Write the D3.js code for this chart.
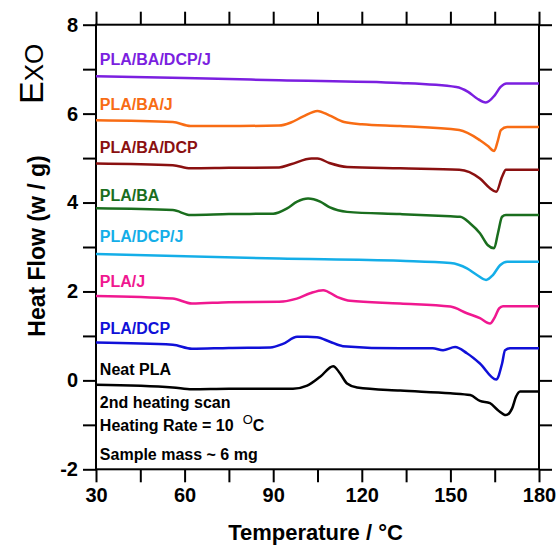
<!DOCTYPE html>
<html>
<head>
<meta charset="utf-8">
<script src="https://cdn.jsdelivr.net/npm/d3@7"></script>
<style>
  body { margin: 0; background: #fff; }
  text { font-family: "Liberation Sans", Arial, sans-serif; }
</style>
</head>
<body>
<svg id="chart" width="558" height="547"></svg>
<script>
// temperature (C) and heat flow (w/g), one pair per sample
var purpleT  = [30, 60, 92, 133, 152, 156, 159, 162, 165, 167, 169, 180]
var purpleHF = [6.84, 6.80, 6.75, 6.69, 6.60, 6.49, 6.34, 6.25, 6.41, 6.60, 6.68, 6.68]

var orangeT  = [30, 56, 62, 75, 92, 96, 100, 105, 109, 114, 120, 133, 153, 160, 162.7, 164.8, 166.1, 167.1, 169.2, 180]
var orangeHF = [5.85, 5.81, 5.72, 5.72, 5.73, 5.80, 5.93, 6.06, 5.96, 5.81, 5.76, 5.72, 5.63, 5.40, 5.27, 5.16, 5.40, 5.63, 5.70, 5.70]

var redT  = [30, 56, 62, 75, 92, 96, 103, 105, 109, 115, 133, 153, 160, 163.4, 165.5, 167.5, 168.8, 180]
var redHF = [4.88, 4.84, 4.77, 4.78, 4.79, 4.86, 4.99, 4.99, 4.89, 4.80, 4.77, 4.74, 4.54, 4.32, 4.24, 4.58, 4.74, 4.74]

var greenT  = [30, 56, 62, 75, 90, 94.7, 98.1, 101.8, 105.9, 109.2, 115, 133, 150, 153.3, 156.7, 160, 162.7, 164.8, 166.1, 167.5, 168.8, 180]
var greenHF = [3.87, 3.83, 3.72, 3.74, 3.75, 3.87, 4.02, 4.09, 4.02, 3.89, 3.79, 3.74, 3.69, 3.68, 3.53, 3.31, 3.04, 2.97, 3.31, 3.68, 3.72, 3.72]

var cyanT  = [30, 92, 133, 150, 155.6, 159, 162.1, 164.4, 166.8, 169.2, 180]
var cyanHF = [2.84, 2.74, 2.69, 2.64, 2.52, 2.37, 2.26, 2.37, 2.59, 2.67, 2.67]

var pinkT  = [30, 56, 62.5, 75, 92, 98, 102.5, 106.9, 111.6, 116, 133, 150, 155.6, 160, 163.4, 165.1, 166.5, 167.8, 180]
var pinkHF = [1.90, 1.84, 1.73, 1.76, 1.77, 1.84, 1.96, 2.03, 1.88, 1.79, 1.73, 1.66, 1.51, 1.40, 1.28, 1.43, 1.62, 1.67, 1.67]

var blueT  = [30, 56, 62.5, 75, 89, 93.3, 98.1, 101.5, 104.8, 109.2, 113.6, 133, 144, 147.5, 151.6, 155.6, 160, 165.5, 167.5, 168.5, 170.2, 180]
var blueHF = [0.85, 0.80, 0.71, 0.73, 0.74, 0.82, 0.98, 0.98, 0.97, 0.87, 0.77, 0.72, 0.72, 0.68, 0.75, 0.61, 0.38, 0.02, 0.38, 0.68, 0.72, 0.72]

var neatT  = [30, 56, 62.5, 75, 96.7, 101.5, 105.9, 110.3, 112.6, 115, 118.4, 133, 150, 156.7, 160, 163.4, 166.1, 168.8, 170.9, 172.2, 173.6, 180]
var neatHF = [-0.10, -0.16, -0.20, -0.19, -0.19, -0.12, 0.08, 0.32, 0.16, -0.07, -0.16, -0.23, -0.29, -0.33, -0.46, -0.51, -0.67, -0.78, -0.63, -0.37, -0.25, -0.25]

var labels = ['PLA/BA/DCP/J', 'PLA/BA/J', 'PLA/BA/DCP', 'PLA/BA', 'PLA/DCP/J', 'PLA/J', 'PLA/DCP', 'Neat PLA']
var colors = ['#7b1fe0', '#f86c14', '#8a1010', '#1a6e1e', '#14aee8', '#f01890', '#1010d8', '#000000']
var temps  = [purpleT, orangeT, redT, greenT, cyanT, pinkT, blueT, neatT]
var flows  = [purpleHF, orangeHF, redHF, greenHF, cyanHF, pinkHF, blueHF, neatHF]
var labelY = [7.09, 6.08, 5.11, 4.03, 3.11, 2.10, 1.04, 0.12]   // baseline of each label, in data units

var notesText = ['2nd heating scan', 'Heating Rate = 10', 'Sample mass ~ 6 mg']
var notesY    = [-0.61, -1.13, -1.79]

var xTicks = d3.range(30, 181, 15)
var yTicks = d3.range(-2, 9, 1)

///////////////////////////////

var svg = d3.select('#chart')
var plotL = 96, plotR = 539, plotT = 24.7, plotB = 469.3

var x = d3.scaleLinear().domain([30, 180]).range([plotL, plotR])
var y = d3.scaleLinear().domain([-2, 8]).range([plotB, plotT])

// axes, ticks all pointing out of the box
function styleAxis(g){
    g.select('.domain').remove()
    g.selectAll('line').attr('stroke', '#000').attr('stroke-width', 2)
    g.selectAll('text').attr('fill', '#000').style('font-size', '20px').style('font-weight', 'bold')
}
svg.append('g').attr('transform', 'translate(0,' + plotB + ')')
    .call(d3.axisBottom(x).tickValues(xTicks).tickSize(13).tickPadding(6)
        .tickFormat(function(d){ return d % 30 === 0 ? String(d) : '' }))
    .call(styleAxis)
svg.append('g').attr('transform', 'translate(0,' + plotT + ')')
    .call(d3.axisTop(x).tickValues(xTicks).tickSize(13).tickFormat(''))
    .call(styleAxis)
svg.append('g').attr('transform', 'translate(' + plotL + ',0)')
    .call(d3.axisLeft(y).tickValues(yTicks).tickSize(13).tickPadding(5)
        .tickFormat(function(d){ return d % 2 === 0 ? String(d) : '' }))
    .call(styleAxis)
svg.append('g').attr('transform', 'translate(' + plotR + ',0)')
    .call(d3.axisRight(y).tickValues(yTicks).tickSize(13).tickFormat(''))
    .call(styleAxis)

svg.append('rect')
    .attr('x', plotL).attr('y', plotT)
    .attr('width', plotR - plotL).attr('height', plotB - plotT)
    .attr('fill', 'none').attr('stroke', '#000').attr('stroke-width', 2)

// traces
var line = d3.line()
    .x(function(d){ return x(d[0]) })
    .y(function(d){ return y(d[1]) })
    .curve(d3.curveMonotoneX)

for (var i = 0; i < labels.length; i += 1) {
    var pts = temps[i].map(function(t, j){ return [t, flows[i][j]] })
    svg.append('path')
        .datum(pts)
        .attr('d', line)
        .attr('fill', 'none')
        .attr('stroke', colors[i])
        .attr('stroke-width', 2.5)
        .attr('stroke-linejoin', 'round')

    svg.append('text')
        .attr('x', x(31.3))
        .attr('y', y(labelY[i]))
        .attr('fill', colors[i])
        .style('font-size', '16px')
        .style('font-weight', 'bold')
        .text(labels[i])
}

// notes
var notes = svg.append('g').style('font-size', '16px').style('font-weight', 'bold').attr('fill', '#000')
notesText.forEach(function(t, k){
    var tx = notes.append('text').attr('x', x(31.3)).attr('y', y(notesY[k]))
    tx.append('tspan').text(t)
    if (k === 1) {
        tx.append('tspan').attr('dx', 9).attr('dy', -7).style('font-size', '13px').style('font-weight', 'normal').text('O')
        tx.append('tspan').attr('dy', 7).text('C')
    }
})

// axis titles
svg.append('text')
    .attr('x', (plotL + plotR) / 2 - 2).attr('y', 540)
    .attr('text-anchor', 'middle')
    .style('font-size', '22px').style('font-weight', 'bold')
    .text('Temperature / \u00b0C')

svg.append('text')
    .attr('transform', 'translate(45,246) rotate(-90)')
    .attr('text-anchor', 'middle')
    .style('font-size', '23px').style('font-weight', 'bold')
    .text('Heat Flow (w / g)')

var exo = svg.append('text')
    .attr('transform', 'translate(43,104) rotate(-90)')
exo.append('tspan').style('font-size', '34px').text('E')
exo.append('tspan').style('font-size', '26px').text('XO')
</script>
</body>
</html>
